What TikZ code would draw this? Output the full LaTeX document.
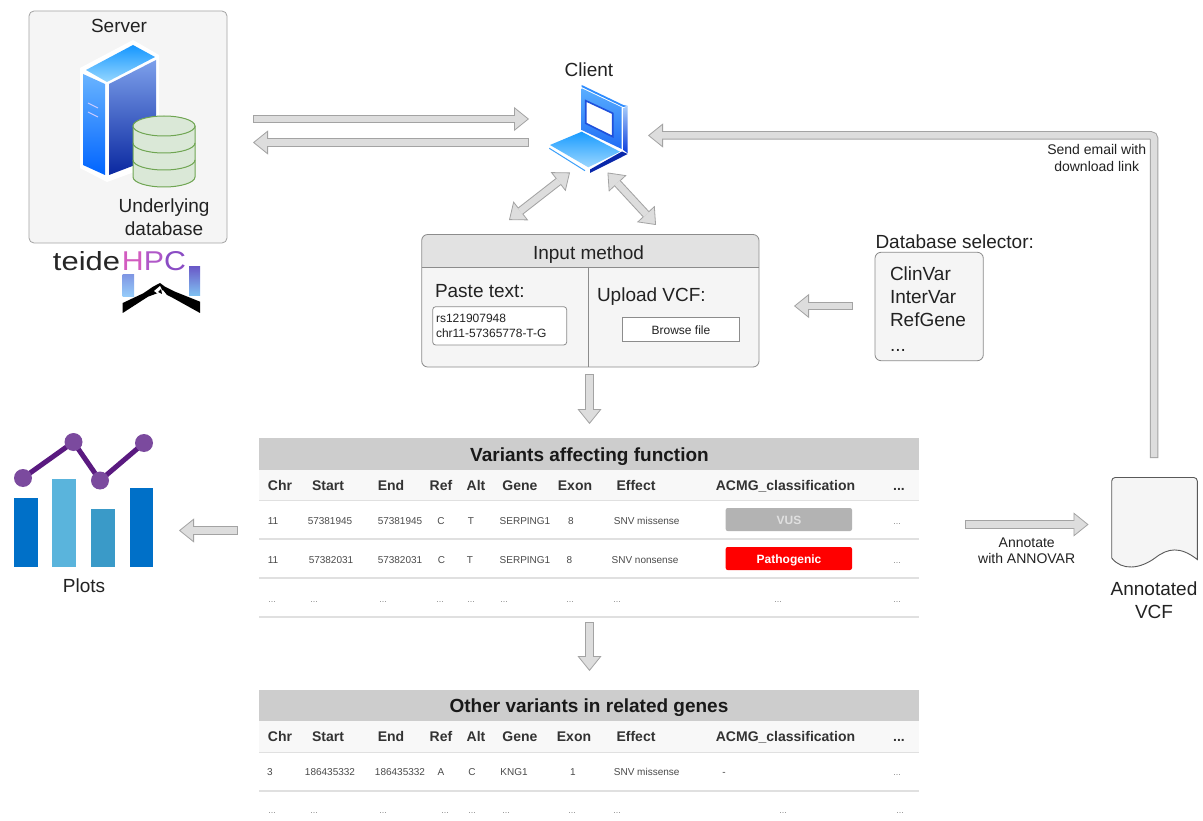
\documentclass[tikz,border=0pt]{standalone}
\usepackage{fontspec}
\usepackage{graphicx}
\setmainfont{Liberation Sans}
\usetikzlibrary{arrows.meta,shapes.geometric}
\definecolor{edgec}{HTML}{A3A3A3}
\definecolor{fillc}{HTML}{DDDDDD}
\definecolor{panel}{HTML}{F5F5F5}
\definecolor{boxedge}{HTML}{8C8C8C}
\definecolor{hdr}{HTML}{CDCDCD}
\definecolor{rowhdr}{HTML}{F8F8F8}
\definecolor{rule}{HTML}{E0E0E0}
\definecolor{txt}{HTML}{222222}
\definecolor{celltxt}{HTML}{4A4A4A}
\definecolor{dotstxt}{HTML}{888888}
\definecolor{dbedge}{HTML}{6FA552}
\definecolor{dbfill}{HTML}{DAE8D7}
\definecolor{topa}{HTML}{1496FF}
\definecolor{topb}{HTML}{96D7FF}
\definecolor{lefta}{HTML}{69B4FF}
\definecolor{leftb}{HTML}{0064FF}
\definecolor{righta}{HTML}{7DA0EB}
\definecolor{rightb}{HTML}{0A28A0}
\definecolor{lapa}{HTML}{5AAEFF}
\definecolor{lapb}{HTML}{1E6CF5}
\definecolor{lapedge}{HTML}{1E50DC}
\definecolor{lapstrip}{HTML}{2E8CFF}
\definecolor{sidea}{HTML}{A8CCFA}
\definecolor{sideb}{HTML}{0A3CDC}
\definecolor{keya}{HTML}{199BFF}
\definecolor{keyb}{HTML}{9BD7FF}
\definecolor{keyfront}{HTML}{0A28AA}
\definecolor{keyline}{HTML}{3CA0FA}
\definecolor{logoLa}{HTML}{8098E4}
\definecolor{logoLb}{HTML}{96CDFA}
\definecolor{logoRa}{HTML}{6A5AC8}
\definecolor{logoRb}{HTML}{80C3F2}
\definecolor{vusc}{HTML}{B3B3B3}
\definecolor{bar1}{HTML}{0070C8}
\definecolor{bar2}{HTML}{5AB4DC}
\definecolor{bar3}{HTML}{3A9AC8}
\definecolor{plotline}{HTML}{5A1A80}
\definecolor{plotdot}{HTML}{7B4A9E}
\newcommand\fz[1]{\fontsize{#1}{#1}\selectfont}
\tikzset{
  base/.style={inner sep=0pt,outer sep=0pt,text=txt,font=\fz{19},text height=13.7pt,text depth=0pt},
  lbl/.style={base,anchor=center},
  lleft/.style={base,anchor=west},
  small/.style={base,font=\fz{14},text height=10pt},
  cellbox/.style={base,font=\fz{12},text height=8.6pt},
  thead/.style={base,font=\fz{14}\bfseries,text=black!80,text height=10pt},
  tcell/.style={base,font=\fz{10},text=celltxt,text height=7.2pt},
  tdots/.style={base,font=\fz{9},text=dotstxt,text height=2pt},
  ttitle/.style={base,font=\fz{19}\bfseries,text=black!90},
  btn/.style={base,font=\fz{12}\bfseries,text height=8.6pt},
  panelbox/.style={draw=boxedge,fill=panel,line width=.8pt},
  hairline/.style={draw=rule,line width=1.2pt},
  blockcore/.style={draw=edgec,line width=8.5pt,line cap=butt},
  blockarrow/.style={blockcore,
    -{Triangle[length=15pt,width=24pt,fill=fillc,color=edgec,line width=.8pt]},
    postaction={draw=fillc,line width=6.5pt,arrows=-,shorten >=14pt,shorten <=.9pt}},
  blockboth/.style={blockcore,
    {Triangle[length=15pt,width=24pt,fill=fillc,color=edgec,line width=.8pt]}-{Triangle[length=15pt,width=24pt,fill=fillc,color=edgec,line width=.8pt]},
    postaction={draw=fillc,line width=6.5pt,arrows=-,shorten >=14pt,shorten <=14pt}},
}
\begin{document}
\begin{tikzpicture}[x=1pt,y=-1pt]
\useasboundingbox (0,0) rectangle (1203,821);
\fill[white] (0,0) rectangle (1203,821);

% ---------- Server
\draw[panelbox,draw=edgec,rounded corners=5pt] (29,11) rectangle (227,243);
\node[lbl] (serverlbl) at (119,26) {Server};
\fill[white] (80,68) -- (133,40) -- (159,55) -- (159,163) -- (107,182) -- (80,168) -- cycle;
\shade[top color=topa,bottom color=topb] (86,70) -- (133,45) -- (155,57) -- (107,82) -- cycle;
\shade[top color=lefta,bottom color=leftb] (83,74) -- (105,84) -- (105,175) -- (83,165) -- cycle;
\shade[top color=righta,bottom color=rightb] (109,84) -- (156,60) -- (156,157) -- (109,175) -- cycle;
\draw[white!80!blue,line width=1pt] (88,103) -- (98,108) (88,112) -- (98,117);
% database
\draw[draw=dbedge,fill=dbfill,line width=1pt] (133,126) -- (133,177) arc[start angle=180,end angle=0,x radius=31,y radius=10] -- (195,126);
\draw[draw=dbedge,fill=dbfill,line width=1pt] (164,126) ellipse[x radius=31,y radius=10];
\draw[draw=dbedge,line width=1pt] (133,143) arc[start angle=180,end angle=0,x radius=31,y radius=10];
\draw[draw=dbedge,line width=1pt] (133,160) arc[start angle=180,end angle=0,x radius=31,y radius=10];
\node[lbl] (dblbl1) at (164,205.5) {Underlying};
\node[lbl] (dblbl2) at (164,228.5) {database};

% teideHPC logo
\node[inner sep=0pt,outer sep=0pt,text=black!85] (teide) at (86.5,261.5) {\resizebox{67pt}{19pt}{teide}};
\node[inner sep=0pt,outer sep=0pt] (hpc) at (154,261.5) {\resizebox{64pt}{19pt}{\textcolor[HTML]{D25CC0}{H}\textcolor[HTML]{B058C8}{P}\textcolor[HTML]{8A4CC4}{C}}};
\shade[top color=logoLa,bottom color=logoLb] (122.7,275) rectangle (134,297);
\shade[top color=logoRa,bottom color=logoRb] (189,266.7) rectangle (200,296);
\fill[black] (122.7,303) -- (143.3,293.3) -- (153,286.7) -- (160,283) -- (165,286.7) -- (175,291.7) -- (200,301.7) -- (200,313) -- (173,298) -- (167,295) -- (163,290) -- (158,293) -- (148,296.7) -- (122.7,313) -- cycle;
\fill[white] (154,291) -- (160,286) -- (163,292) -- (161,296) -- cycle;
\fill[black] (158,292) -- (161,289) -- (162,294) -- cycle;

% ---------- Client
\node[lbl] (clientlbl) at (589,70) {Client};
\fill[white] (581,84) -- (629,105) -- (629,156) -- (589,174) -- (548,149) -- (548,145) -- (581,130) -- cycle;
\fill[lapstrip] (581.7,85) -- (623.3,105) -- (627.7,106) -- (623.3,107) -- (581.7,87) -- cycle;
\shade[top color=lapa,bottom color=lapb] (581.7,88.3) -- (621.7,107.3) -- (621.7,149) -- (581.7,130) -- cycle;
\fill[white] (585.7,100.7) -- (612.7,113.3) -- (612.7,136.7) -- (585.7,123.3) -- cycle;
\draw[lapedge,line width=1.6pt] (585.7,100.7) -- (612.7,113.3) -- (612.7,136.7) -- (585.7,123.3) -- cycle;
\shade[top color=sidea,bottom color=sideb] (623.3,108.3) -- (627.7,106) -- (627.7,153.3) -- (623.3,150) -- cycle;
\shade[top color=keya,bottom color=keyb] (550,145) -- (581.7,131.7) -- (620,151.7) -- (588.3,167.3) -- cycle;
\fill[keyfront] (590,173) -- (627.7,154) -- (622,151.5) -- (590,169.5) -- cycle;
\draw[keyline,line width=1pt] (549.3,148.3) -- (585,170.7);

% ---------- server/client arrows
\coordinate (svA) at (253,119);
\coordinate (clA) at (529,119);
\coordinate (clB) at (529,142.5);
\coordinate (svB) at (253,142.5);
\draw[blockarrow] (svA) -- (clA);
\draw[blockarrow] (clB) -- (svB);
\coordinate (clC) at (570,172.5);
\coordinate (inA) at (509,220);
\coordinate (clD) at (607.5,172.5);
\coordinate (inB) at (656,225);
\draw[blockboth] (inA) -- (clC);
\draw[blockboth] (clD) -- (inB);

% ---------- Send email path
\coordinate (vcfUp) at (1154,458);
\coordinate (cornerE) at (1154,135.5);
\coordinate (clE) at (648,135.5);
\draw[blockarrow,rounded corners=3pt] (vcfUp) -- (cornerE) -- (clE);
\node[small] (mail1) at (1096.7,150) {Send email with};
\node[small] (mail2) at (1096.7,167) {download link};

% ---------- Input method
\fill[panel,rounded corners=6pt] (421.7,234.5) rectangle (759,367);
\begin{scope}
\clip[rounded corners=6pt] (421.7,234.5) rectangle (759,367);
\fill[fillc!85!white] (421.7,234.5) rectangle (759,267);
\end{scope}
\draw[boxedge,line width=.8pt,rounded corners=6pt] (421.7,234.5) rectangle (759,367);
\draw[boxedge,line width=.8pt] (421.7,267) -- (759,267) (588.3,267) -- (588.3,367);
\node[lbl] (inputlbl) at (588.5,253) {Input method};
\node[lleft] (pastelbl) at (435,291) {Paste text:};
\draw[draw=boxedge,fill=white,line width=.8pt,rounded corners=3pt] (432.7,306.7) rectangle (566.7,345);
\node[cellbox,anchor=west] (rs) at (436,318) {rs121907948};
\node[cellbox,anchor=west] (chr) at (436,333) {chr11-57365778-T-G};
\node[lleft] (uploadlbl) at (597,295) {Upload VCF:};
\draw[draw=boxedge,fill=white,line width=.8pt] (622.7,317.7) rectangle (739.3,341.7);
\node[cellbox] (browse) at (681,330) {Browse file};

% ---------- Database selector
\node[lleft] (dbsel) at (875.5,241.5) {Database selector:};
\draw[panelbox,rounded corners=6pt] (875,252.3) rectangle (983.3,360.7);
\node[lleft] (d1) at (890,274) {ClinVar};
\node[lleft] (d2) at (890,297) {InterVar};
\node[lleft] (d3) at (890,320) {RefGene};
\node[lleft,anchor=base west] (d4) at (890,351) {...};
\coordinate (dsA) at (853,306);
\coordinate (inC) at (794,306);
\draw[blockarrow] (dsA) -- (inC);

% ---------- vertical arrows
\coordinate (inD) at (589.5,374);
\coordinate (t1A) at (589.5,424);
\draw[blockarrow] (inD) -- (t1A);
\coordinate (t1B) at (589.5,622);
\coordinate (t2A) at (589.5,671);
\draw[blockarrow] (t1B) -- (t2A);

% ---------- Table 1
\fill[hdr] (259,438) rectangle (918.5,469.5);
\fill[rowhdr] (259,469.5) rectangle (918.5,500);
\node[ttitle] (t1title) at (589.5,455) {Variants affecting function};
\foreach \x/\t [count=\i] in {280/Chr,328/Start,391/End,441/Ref,476/Alt,520/Gene,575/Exon,636/Effect,785.5/ACMG\_classification}
  \node[thead] (ah\i) at (\x,485) {\t};
\node[thead] (ahE) at (899,485) {...};
\foreach \yy in {500.5,539,578,617}
  \draw[hairline] (259,\yy) -- (918.5,\yy);
\foreach \x/\t [count=\i] in {273/11,330/57381945,400/57381945,441/C,471/T,525/SERPING1,571/8,646.7/SNV missense}
  \node[tcell] (ar\i) at (\x,521) {\t};
\node[tdots] (arE) at (897,523) {...};
\foreach \x/\t [count=\i] in {273/11,331/57382031,400/57382031,441.5/C,470/T,525/SERPING1,569.5/8,645/SNV nonsense}
  \node[tcell] (as\i) at (\x,559.5) {\t};
\node[tdots] (asE) at (897,562) {...};
\foreach \x [count=\i] in {272,314,383,440,471,504,570,617,778,897}
  \node[tdots] (at\i) at (\x,601) {...};
\fill[vusc,rounded corners=2pt] (725.7,508) rectangle (852,531);
\node[btn,text=white!88!black] (vus) at (789,520) {VUS};
\fill[red,rounded corners=2pt] (725.7,547) rectangle (852,570);
\node[btn,text=white] (path) at (789,559.5) {Pathogenic};

% ---------- Plots arrow and chart
\coordinate (t1C) at (237.5,530.5);
\coordinate (plA) at (179,530.5);
\draw[blockarrow] (t1C) -- (plA);
\fill[bar1] (14,498) rectangle (38,567);
\fill[bar2] (52,479) rectangle (76,567);
\fill[bar3] (91,509) rectangle (115,567);
\fill[bar1] (130,488) rectangle (153,567);
\draw[plotline,line width=5pt] (23,478) -- (73.5,442) -- (100,480.5) -- (144,443);
\foreach \px/\py in {23/478,73.5/442,100/480.5,144/443}
  \fill[plotdot] (\px,\py) circle[radius=9];
\node[lbl] (plotslbl) at (84,586) {Plots};

% ---------- Annotate arrow
\coordinate (t1D) at (965,524.5);
\coordinate (vcfA) at (1088.5,524.5);
\draw[blockarrow] (t1D) -- (vcfA);
\node[small] (ann1) at (1026.7,542) {Annotate};
\node[small] (ann2) at (1026.7,558) {with ANNOVAR};

% ---------- Annotated VCF document
\draw[draw=black!65,fill=panel,line width=.9pt,rounded corners=3.5pt] (1111.7,558) -- (1111.7,477.5) -- (1197.3,477.5) [sharp corners] -- (1197.3,559.5)
  .. controls (1180,546) and (1168,548) .. (1155,558)
  .. controls (1140,569) and (1122,571) .. (1111.7,558) -- cycle;
\node[lbl] (vcf1) at (1154,589) {Annotated};
\node[lbl] (vcf2) at (1154,612) {VCF};

% ---------- Table 2
\fill[hdr] (259,690) rectangle (918.5,721);
\fill[rowhdr] (259,721) rectangle (918.5,752);
\node[ttitle] (t2title) at (589,706) {Other variants in related genes};
\foreach \x/\t [count=\i] in {280/Chr,328/Start,391/End,441/Ref,476/Alt,520/Gene,574/Exon,636/Effect,785.5/ACMG\_classification}
  \node[thead] (bh\i) at (\x,736) {\t};
\node[thead] (bhE) at (899,736) {...};
\foreach \yy in {752.5,791}
  \draw[hairline] (259,\yy) -- (918.5,\yy);
\foreach \x/\t [count=\i] in {270/3,330/186435332,400/186435332,441/A,472/C,514/KNG1,573/1,646.7/SNV missense,724/-}
  \node[tcell] (br\i) at (\x,772) {\t};
\node[tdots] (brE) at (897,774) {...};
\foreach \x [count=\i] in {272,314,383,445,472,506,572,617,783,900}
  \node[tdots] (bs\i) at (\x,812) {...};
\end{tikzpicture}
\end{document}
